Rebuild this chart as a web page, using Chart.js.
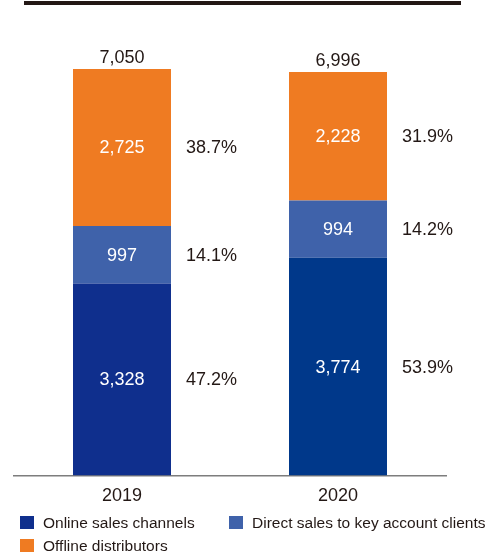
<!DOCTYPE html>
<html>
<head>
<meta charset="utf-8">
<script src="https://cdn.jsdelivr.net/npm/chart.js@4"></script>
<style>
  body { margin: 0; background: #fff; font-family: "Liberation Sans", Arial, sans-serif; }
  #wrap { position: relative; width: 500px; height: 555px; }
  #topRule { position: absolute; left: 24px; top: 1px; width: 437px; height: 4px; background: #231815; }
  .lg { position: absolute; font-size: 15.5px; color: #231815; line-height: 16px; white-space: nowrap; }
  .lg span { position: absolute; left: -23px; top: 1px; width: 14px; height: 13px; }
</style>
</head>
<body>
<div id="wrap">
  <canvas id="myChart" width="500" height="555"></canvas>
  <div id="topRule"></div>
  <div class="lg" style="left:43px; top:515px;"><span style="background:#0f2f8d"></span>Online sales channels</div>
  <div class="lg" style="left:252px; top:515px;"><span style="background:#3f62aa"></span>Direct sales to key account clients</div>
  <div class="lg" style="left:43px; top:538px;"><span style="background:#ef7b22"></span>Offline distributors</div>
</div>
<script>
const years = ['2019', '2020']
const online = [3328, 3774]
const direct = [997, 994]
const offline = [2725, 2228]
const totals = [7050, 6996]
const onlinePct = ['47.2%', '53.9%']
const directPct = ['14.1%', '14.2%']
const offlinePct = ['38.7%', '31.9%']

const pctLabels = [onlinePct, directPct, offlinePct]

const labelPlugin = {
  id: 'segLabels',
  afterDatasetsDraw(chart) {
    const ctx = chart.ctx
    ctx.save()
    ctx.font = '18px "Liberation Sans", Arial, sans-serif'
    chart.data.datasets.forEach((ds, di) => {
      chart.getDatasetMeta(di).data.forEach((bar, i) => {
        const yMid = (bar.y + bar.base) / 2
        ctx.fillStyle = '#fff'
        ctx.textAlign = 'center'
        ctx.textBaseline = 'middle'
        ctx.fillText(ds.data[i].toLocaleString('en-US'), bar.x, yMid + 1)
        ctx.fillStyle = '#231815'
        ctx.textAlign = 'left'
        ctx.fillText(pctLabels[di][i], bar.x + bar.width / 2 + 15, yMid + 1)
      })
    })
    // totals above the stacks
    const top = chart.getDatasetMeta(chart.data.datasets.length - 1).data
    ctx.fillStyle = '#231815'
    ctx.textAlign = 'center'
    ctx.textBaseline = 'bottom'
    top.forEach((bar, i) => {
      ctx.fillText(totals[i].toLocaleString('en-US'), bar.x, bar.y - 2)
    })
    ctx.restore()
  }
}

new Chart(document.getElementById('myChart'), {
  type: 'bar',
  data: {
    labels: years,
    datasets: [
      { label: 'Online sales channels', data: online, backgroundColor: ['#0f2f8d', '#00388a'] },
      { label: 'Direct sales to key account clients', data: direct, backgroundColor: '#3f62aa' },
      { label: 'Offline distributors', data: offline, backgroundColor: '#ef7b22' }
    ]
  },
  options: {
    responsive: false,
    animation: false,
    layout: { padding: { left: 14, right: 54, top: 10, bottom: 38 } },
    datasets: { bar: { categoryPercentage: 1, barPercentage: 0.4537 } },
    scales: {
      x: {
        stacked: true,
        grid: { display: false, drawTicks: false },
        border: { display: true, color: '#7d7d7d', width: 1.5 },
        ticks: { color: '#231815', padding: 10, font: { size: 18, family: '"Liberation Sans", Arial, sans-serif' } }
      },
      y: { stacked: true, display: false, min: 0, max: 8073 }
    },
    plugins: { legend: { display: false }, tooltip: { enabled: false } }
  },
  plugins: [labelPlugin]
})
</script>
</body>
</html>
